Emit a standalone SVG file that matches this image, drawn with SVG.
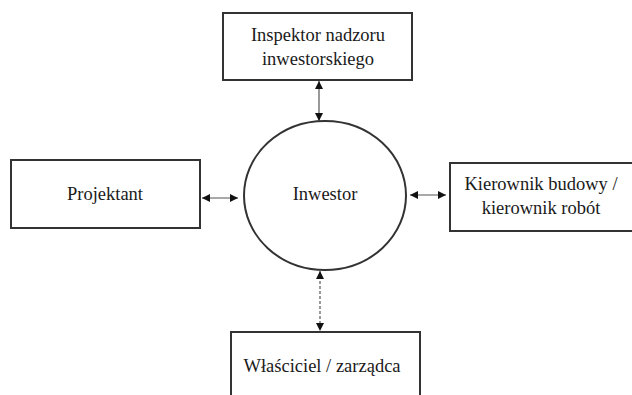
<svg xmlns="http://www.w3.org/2000/svg" width="632" height="395" viewBox="0 0 632 395">
<style>
.box{fill:#fff;stroke:#333;stroke-width:2}
.t{font-family:'Liberation Serif','DejaVu Serif',serif;font-size:18.5px;fill:#1a1a1a;text-anchor:middle}
.c{stroke:#555;stroke-width:1.2;fill:none}
.d{stroke-dasharray:3,2}
</style>
<defs>
<marker id="ah" viewBox="0 0 10 10" refX="10" refY="5" markerWidth="8" markerHeight="8" markerUnits="userSpaceOnUse" orient="auto-start-reverse">
<path d="M0,0 L10,5 L0,10 z" fill="#111"/>
</marker>
</defs>
<rect width="632" height="395" fill="#fff"/>
<g id="inspektor"><rect class="box" x="223" y="13" width="189" height="67"/>
<text class="t" font-family="Liberation Serif, serif" x="318" y="41">Inspektor nadzoru</text>
<text class="t" font-family="Liberation Serif, serif" x="318" y="65">inwestorskiego</text></g>
<g id="projektant"><rect class="box" x="11" y="160" width="189" height="68"/>
<text class="t" font-family="Liberation Serif, serif" x="105" y="200">Projektant</text></g>
<g id="inwestor"><ellipse class="box" cx="325" cy="195.5" rx="81" ry="74.5"/>
<text class="t" font-family="Liberation Serif, serif" x="325" y="200">Inwestor</text></g>
<g id="kierownik"><rect class="box" x="450" y="163" width="190" height="68"/>
<text class="t" font-family="Liberation Serif, serif" x="541" y="190">Kierownik budowy /</text>
<text class="t" font-family="Liberation Serif, serif" x="541" y="214">kierownik robót</text></g>
<g id="wlasciciel"><rect class="box" x="231" y="332" width="189" height="80"/>
<text class="t" font-family="Liberation Serif, serif" x="322" y="372">Właściciel / zarządca</text></g>
<g id="connectors">
<line class="c" x1="319" y1="81" x2="319" y2="121" marker-start="url(#ah)" marker-end="url(#ah)"/>
<line class="c" x1="202" y1="198" x2="238" y2="198" marker-start="url(#ah)" marker-end="url(#ah)"/>
<line class="c" x1="410" y1="195" x2="446" y2="195" marker-start="url(#ah)" marker-end="url(#ah)"/>
<line class="c d" x1="320" y1="271" x2="320" y2="331" marker-start="url(#ah)" marker-end="url(#ah)"/>
</g>
</svg>
